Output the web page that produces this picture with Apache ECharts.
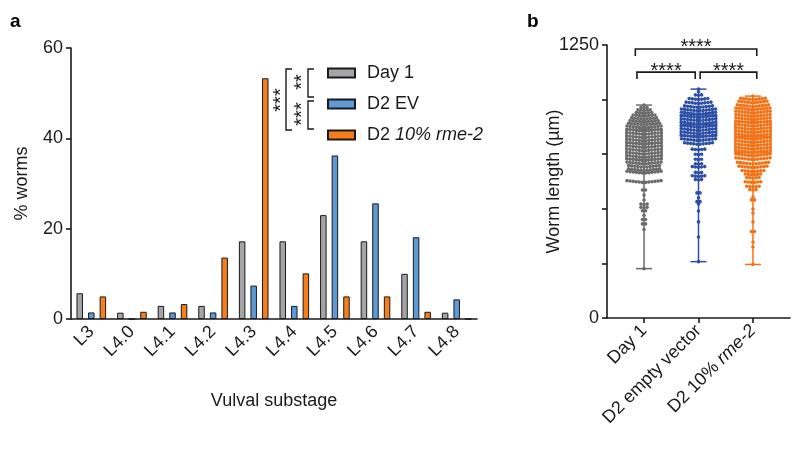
<!DOCTYPE html>
<html>
<head>
<meta charset="utf-8">
<script src="https://cdn.jsdelivr.net/npm/echarts@6/dist/echarts.min.js"></script>
<style>
html, body { margin: 0; background: #fff; }
#chart { width: 800px; height: 461px; }
</style>
</head>
<body>
<div id="chart"></div>
<script>
// panel a: % worms per vulval substage
const substages = ['L3', 'L4.0', 'L4.1', 'L4.2', 'L4.3', 'L4.4', 'L4.5', 'L4.6', 'L4.7', 'L4.8'];
const day1Pct = [5.7, 1.4, 2.9, 2.9, 17.2, 17.2, 23.0, 17.2, 10.0, 1.4];
const evPct = [1.45, 0, 1.45, 1.45, 7.4, 2.9, 36.2, 25.6, 18.1, 4.35];
const rmePct = [5.0, 1.6, 3.3, 13.6, 53.3, 10.1, 5.0, 5.0, 1.6, 0];

// panel b: worm length (um)
const lengthGroups = ['Day 1', 'D2 empty vector', 'D2 10% rme-2'];
// min, Q1, median, Q3, max
const day1Box = [226, 727, 800, 864, 975];
const evBox = [258, 833, 885, 929, 1048];
const rmeBox = [245, 757, 830, 899, 1016];

// scatter rows: length value and number of worms in that row
const day1RowValues = [975, 962, 950, 937, 924, 910, 897, 884, 870, 855, 840, 825, 810, 795, 780, 765, 750, 735, 720, 705, 690, 675, 663, 620, 585, 563, 540, 520, 505, 490, 470, 450, 430, 405, 226];
const day1RowCounts = [1, 3, 5, 6, 8, 9, 10, 11, 12, 12, 12, 12, 12, 12, 12, 12, 12, 12, 12, 12, 11, 11, 12, 12, 2, 1, 1, 3, 3, 2, 1, 2, 2, 1, 1];
const evRowValues = [1048, 1036, 1020, 1000, 982, 964, 948, 933, 918, 903, 888, 873, 858, 843, 828, 812, 795, 770, 748, 725, 705, 690, 665, 648, 632, 572, 550, 532, 522, 490, 440, 371, 258];
const evRowCounts = [1, 1, 3, 7, 9, 10, 12, 12, 12, 12, 12, 12, 12, 12, 12, 12, 10, 5, 3, 3, 3, 5, 3, 5, 3, 2, 1, 2, 1, 1, 1, 1, 1];
const rmeRowValues = [1016, 1000, 985, 968, 953, 938, 923, 908, 893, 878, 863, 848, 833, 818, 803, 788, 773, 758, 742, 725, 705, 688, 670, 655, 640, 620, 600, 586, 554, 540, 499, 481, 440, 395, 348, 325, 245];
const rmeRowCounts = [1, 9, 10, 11, 12, 12, 12, 12, 12, 12, 12, 12, 12, 12, 12, 12, 12, 12, 12, 12, 11, 10, 8, 6, 5, 6, 5, 3, 1, 2, 1, 1, 1, 2, 1, 1, 1];

// significance brackets in panel b: from group, to group, height (um)
const bracketFrom = [0.87, 2.03, 0.84];
const bracketTo = [1.94, 3.07, 3.07];
const bracketY = [1126, 1126, 1232];
const bracketText = ['****', '****', '****'];

const FONT = '"Liberation Sans", Arial, sans-serif';
const INK = '#1a1a1a';
const barColors = ['#a5a5a8', '#5d9ad6', '#f67e1b'];
const dotColors = ['#6b6b6b', '#2d4fa6', '#f47216'];

const chart = echarts.init(document.getElementById('chart'));

function buildPoints(gx, rowValues, rowCounts) {
    const pts = [];
    rowValues.forEach(function(v, r) {
        const n = rowCounts[r];
        for (let i = 0; i < n; i++) {
            pts.push([gx, v, i - (n - 1) / 2]);
        }
    });
    return pts;
}

function dotRenderer(color) {
    return function(params, api) {
        const p = api.coord([api.value(0), api.value(1)]);
        const s = api.value(2);
        return {
            type: 'circle',
            shape: { cx: p[0] + s * 3.1, cy: p[1] - Math.abs(s) * 0.35, r: 1.8 },
            style: { fill: color }
        };
    };
}

function renderBox(params, api) {
    const x = api.value(0);
    const pMin = api.coord([x, api.value(1)]);
    const pQ1 = api.coord([x, api.value(2)]);
    const pMed = api.coord([x, api.value(3)]);
    const pQ3 = api.coord([x, api.value(4)]);
    const pMax = api.coord([x, api.value(5)]);
    const c = dotColors[params.dataIndex];
    const cx = pMin[0];
    const st = { stroke: c, lineWidth: 1.5, fill: 'none' };
    return {
        type: 'group',
        children: [
            { type: 'rect', shape: { x: cx - 18, y: pQ3[1], width: 36, height: pQ1[1] - pQ3[1] }, style: st },
            { type: 'line', shape: { x1: cx, y1: pMin[1], x2: cx, y2: pMax[1] }, style: st },
            { type: 'line', shape: { x1: cx - 8, y1: pMin[1], x2: cx + 8, y2: pMin[1] }, style: st },
            { type: 'line', shape: { x1: cx - 8, y1: pMax[1], x2: cx + 8, y2: pMax[1] }, style: st },
            { type: 'line', shape: { x1: cx - 18, y1: pMed[1], x2: cx + 18, y2: pMed[1] }, style: st }
        ]
    };
}

function renderBracket(params, api) {
    const p1 = api.coord([api.value(0), api.value(2)]);
    const p2 = api.coord([api.value(1), api.value(2)]);
    return {
        type: 'group',
        children: [
            {
                type: 'polyline',
                shape: { points: [[p1[0], p1[1] + 7], [p1[0], p1[1]], [p2[0], p1[1]], [p2[0], p1[1] + 7]] },
                style: { stroke: INK, lineWidth: 1.6, fill: 'none' }
            },
            {
                type: 'text',
                x: (p1[0] + p2[0]) / 2,
                y: p1[1] - 1,
                style: { text: bracketText[params.dataIndex], font: '20px ' + FONT, fill: INK, align: 'center', verticalAlign: 'middle' }
            }
        ]
    };
}

const axisLineStyle = { lineStyle: { color: INK, width: 1.6 } };
const tickStyle = { length: 5, lineStyle: { color: INK, width: 1.6 } };
const richItalic = { i: { fontStyle: 'italic', fontSize: 18, fontFamily: FONT, color: INK } };

const option = {
    animation: false,
    textStyle: { fontFamily: FONT, color: INK },
    grid: [
        { left: 71, top: 48, width: 406, height: 271 },
        { left: 607, top: 45, width: 183, height: 273 }
    ],
    legend: {
        data: ['Day 1', 'D2 EV', 'D2 10% rme-2'],
        orient: 'vertical',
        left: 322,
        top: 59,
        itemWidth: 27,
        itemHeight: 9,
        itemGap: 13,
        icon: 'rect',
        textStyle: { fontSize: 18, lineHeight: 18, color: INK, padding: [0, 0, 0, 7], rich: richItalic },
        formatter: function(name) {
            return name === 'D2 10% rme-2' ? 'D2 {i|10% rme-2}' : name;
        }
    },
    xAxis: [
        {
            gridIndex: 0,
            type: 'category',
            data: substages,
            name: 'Vulval substage',
            nameLocation: 'middle',
            nameGap: 73,
            nameMoveOverlap: false,
            nameTextStyle: { fontSize: 18, color: INK },
            axisLine: axisLineStyle,
            axisTick: Object.assign({ alignWithLabel: true }, tickStyle),
            axisLabel: { rotate: 45, fontSize: 18, color: INK, margin: 10 }
        },
        {
            gridIndex: 1,
            type: 'value',
            min: 0.32,
            max: 3.68,
            splitLine: { show: false },
            axisLine: axisLineStyle,
            axisTick: Object.assign({ customValues: [1, 2, 3] }, tickStyle),
            axisLabel: {
                customValues: [1, 2, 3],
                rotate: 45,
                fontSize: 18,
                color: INK,
                margin: 10,
                rich: richItalic,
                formatter: function(v) {
                    const name = lengthGroups[Math.round(v) - 1];
                    return name === 'D2 10% rme-2' ? 'D2 10% {i|rme-2}' : name;
                }
            }
        }
    ],
    yAxis: [
        {
            gridIndex: 0,
            type: 'value',
            min: 0,
            max: 60,
            interval: 20,
            name: '% worms',
            nameLocation: 'middle',
            nameGap: 40,
            nameMoveOverlap: false,
            nameTextStyle: { fontSize: 18, color: INK },
            splitLine: { show: false },
            axisLine: Object.assign({ show: true }, axisLineStyle),
            axisTick: Object.assign({ show: true }, tickStyle),
            axisLabel: { fontSize: 18, color: INK, margin: 8 }
        },
        {
            gridIndex: 1,
            type: 'value',
            min: 0,
            max: 1250,
            interval: 250,
            name: 'Worm length (µm)',
            nameLocation: 'middle',
            nameGap: 44,
            nameMoveOverlap: false,
            nameTextStyle: { fontSize: 18, color: INK },
            splitLine: { show: false },
            axisLine: Object.assign({ show: true }, axisLineStyle),
            axisTick: Object.assign({ show: true }, tickStyle),
            axisLabel: {
                fontSize: 18,
                color: INK,
                margin: 8,
                formatter: function(v) { return (v === 0 || v === 1250) ? String(v) : ''; }
            }
        }
    ],
    graphic: [
        { type: 'text', left: 10, top: 12, style: { text: 'a', font: 'bold 19px ' + FONT, fill: '#000' } },
        { type: 'text', left: 527, top: 12, style: { text: 'b', font: 'bold 19px ' + FONT, fill: '#000' } },
        // brackets next to the legend
        { type: 'polyline', shape: { points: [[314, 69], [308, 69], [308, 97], [314, 97]] }, style: { stroke: INK, lineWidth: 1.4, fill: 'none' } },
        { type: 'polyline', shape: { points: [[314, 101], [308, 101], [308, 129], [314, 129]] }, style: { stroke: INK, lineWidth: 1.4, fill: 'none' } },
        { type: 'polyline', shape: { points: [[292, 69], [286, 69], [286, 130], [292, 130]] }, style: { stroke: INK, lineWidth: 1.4, fill: 'none' } },
        { type: 'text', x: 302, y: 82, rotation: Math.PI / 2, style: { text: '**', font: '20px ' + FONT, fill: INK, align: 'center', verticalAlign: 'middle' } },
        { type: 'text', x: 302, y: 114, rotation: Math.PI / 2, style: { text: '***', font: '20px ' + FONT, fill: INK, align: 'center', verticalAlign: 'middle' } },
        { type: 'text', x: 281, y: 100, rotation: Math.PI / 2, style: { text: '***', font: '20px ' + FONT, fill: INK, align: 'center', verticalAlign: 'middle' } }
    ],
    series: [
        {
            name: 'Day 1', type: 'bar', xAxisIndex: 0, yAxisIndex: 0, data: day1Pct,
            barWidth: 6.5, barGap: '78%',
            itemStyle: { color: barColors[0], borderColor: INK, borderWidth: 1 }
        },
        {
            name: 'D2 EV', type: 'bar', xAxisIndex: 0, yAxisIndex: 0, data: evPct,
            barWidth: 6.5, barGap: '78%',
            itemStyle: { color: barColors[1], borderColor: INK, borderWidth: 1 }
        },
        {
            name: 'D2 10% rme-2', type: 'bar', xAxisIndex: 0, yAxisIndex: 0, data: rmePct,
            barWidth: 6.5, barGap: '78%',
            itemStyle: { color: barColors[2], borderColor: INK, borderWidth: 1 }
        },
        {
            name: 'length box', type: 'custom', xAxisIndex: 1, yAxisIndex: 1,
            renderItem: renderBox,
            encode: { x: 0, y: [1, 2, 3, 4, 5] },
            data: [[1].concat(day1Box), [2].concat(evBox), [3].concat(rmeBox)],
            z: 2
        },
        {
            name: 'Day 1 length', type: 'custom', xAxisIndex: 1, yAxisIndex: 1,
            renderItem: dotRenderer(dotColors[0]),
            encode: { x: 0, y: 1 },
            data: buildPoints(1, day1RowValues, day1RowCounts), z: 3
        },
        {
            name: 'EV length', type: 'custom', xAxisIndex: 1, yAxisIndex: 1,
            renderItem: dotRenderer(dotColors[1]),
            encode: { x: 0, y: 1 },
            data: buildPoints(2, evRowValues, evRowCounts), z: 3
        },
        {
            name: 'rme-2 length', type: 'custom', xAxisIndex: 1, yAxisIndex: 1,
            renderItem: dotRenderer(dotColors[2]),
            encode: { x: 0, y: 1 },
            data: buildPoints(3, rmeRowValues, rmeRowCounts), z: 3
        },
        {
            name: 'significance', type: 'custom', xAxisIndex: 1, yAxisIndex: 1,
            renderItem: renderBracket,
            encode: { x: [0, 1], y: 2 },
            data: bracketFrom.map(function(f, i) { return [f, bracketTo[i], bracketY[i]]; }),
            clip: false, z: 4
        }
    ]
};

chart.setOption(option);
window.addEventListener('resize', () => chart.resize());
</script>
</body>
</html>
